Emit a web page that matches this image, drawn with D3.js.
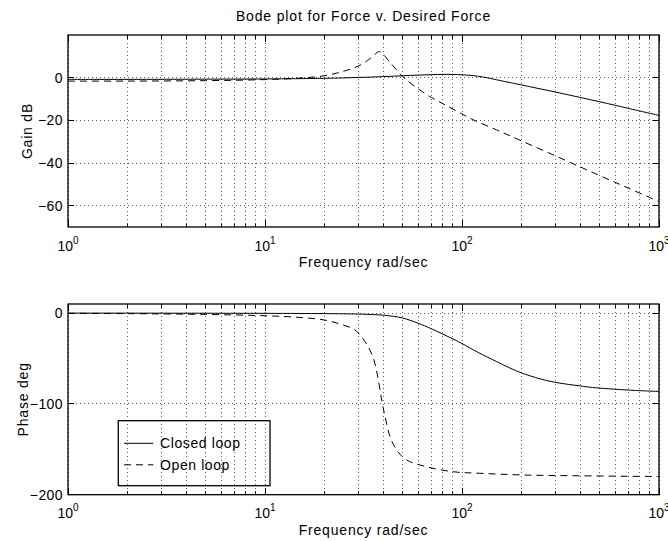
<!DOCTYPE html>
<html><head><meta charset="utf-8">
<script src="https://cdn.jsdelivr.net/npm/d3@7"></script>
<style>
body{margin:0;background:#fff}
text{font-family:"Liberation Sans",Arial,Helvetica,sans-serif;fill:#000}
</style>
</head><body>
<svg id="chart" width="668" height="541"></svg>
<script>
// ---------- data ----------
const titleText = "Bode plot for Force v. Desired Force";
const xLabelText = "Frequency rad/sec";
const gainLabelText = "Gain dB";
const phaseLabelText = "Phase deg";
const seriesNames = ["Closed loop", "Open loop"];
const xTickExponents = [0, 1, 2, 3];
const gainTicks = [-60, -40, -20, 0];
const gainTickLabels = ["\u221260", "\u221240", "\u221220", "0"];
const phaseTicks = [-200, -100, 0];
const phaseTickLabels = ["\u2212200", "\u2212100", "0"];

const gainFreqClosed = [1, 2, 5, 10, 20, 30, 40, 50, 60, 70, 80, 90, 100, 110, 120, 135, 150, 200, 300, 500, 700, 1000];
const gainClosed     = [-0.8, -0.8, -0.7, -0.6, -0.3, 0.1, 0.5, 0.9, 1.2, 1.4, 1.55, 1.55, 1.35, 1.1, 0.7, -0.1, -1.0, -3.4, -6.8, -11.3, -14.4, -17.7];

const gainFreqOpen = [1, 2, 5, 10, 15, 20, 25, 30, 34, 36, 38, 40, 42, 45, 50, 58, 70, 80, 95, 115, 150, 200, 340, 500, 700, 1000];
const gainOpen     = [-1.6, -1.6, -1.4, -0.9, -0.2, 0.9, 3.0, 5.6, 8.8, 10.8, 12.2, 10.8, 8.4, 5.2, 0.5, -4.3, -9.3, -12.2, -15.9, -19.9, -24.5, -29.6, -39.0, -45.9, -51.8, -58.1];

const phaseFreqClosed = [1, 10, 20, 30, 35, 40, 45, 50, 55, 60, 70, 80, 90, 100, 120, 150, 175, 200, 250, 300, 400, 460, 700, 1000];
const phaseClosed     = [0, -0.3, -0.6, -1.1, -1.6, -2.3, -3.6, -5.5, -8.2, -11.2, -17.3, -23.2, -28.5, -33.5, -43, -53.5, -60.5, -65.8, -72.5, -76.4, -80.3, -81.9, -84.8, -86.3];

const phaseFreqOpen = [1, 2, 5, 10, 15, 20, 24, 28.6, 32.2, 35.5, 37.6, 39.1, 40.7, 43.1, 46.6, 52.4, 66, 90, 123, 205, 400, 1000];
const phaseOpen     = [-0.3, -0.6, -1.5, -2.9, -4.8, -7.6, -12, -18.6, -31.5, -49.7, -73.7, -95.8, -114, -136, -150.8, -161.8, -169.2, -174.7, -176.4, -178.3, -179.2, -180];

// ---------- layout ----------
const svg = d3.select("#chart");
const L = 68, R = 659;
const x = d3.scaleLog().domain([1, 1000]).range([L, R]);
const minorTicks = [];
[0, 1, 2].forEach(d => { for (let k = 2; k <= 9; k++) minorTicks.push(k * Math.pow(10, d)); });
const majorTicks = xTickExponents.map(e => Math.pow(10, e));

function panel(cfg) {
  const y = d3.scaleLinear().domain(cfg.domain).range([cfg.bottom, cfg.top]);
  const g = svg.append("g");
  const clipId = "clip" + cfg.id;
  svg.append("clipPath").attr("id", clipId).append("rect")
    .attr("x", L).attr("y", cfg.top).attr("width", R - L).attr("height", cfg.bottom - cfg.top);

  // grid
  const grid = g.append("g").attr("stroke", "#333").attr("stroke-width", 0.8)
    .attr("stroke-dasharray", "1,3").attr("shape-rendering", "crispEdges");
  majorTicks.concat(minorTicks).forEach(v => {
    grid.append("line").attr("x1", x(v)).attr("x2", x(v)).attr("y1", cfg.top).attr("y2", cfg.bottom);
  });
  cfg.ticks.forEach(v => {
    grid.append("line").attr("x1", L).attr("x2", R).attr("y1", y(v)).attr("y2", y(v));
  });

  // ticks
  const tk = g.append("g").attr("stroke", "#000").attr("stroke-width", 1).attr("shape-rendering", "crispEdges");
  majorTicks.forEach(v => {
    tk.append("line").attr("x1", x(v)).attr("x2", x(v)).attr("y1", cfg.bottom).attr("y2", cfg.bottom - 7);
    tk.append("line").attr("x1", x(v)).attr("x2", x(v)).attr("y1", cfg.top).attr("y2", cfg.top + 7);
  });
  minorTicks.forEach(v => {
    tk.append("line").attr("x1", x(v)).attr("x2", x(v)).attr("y1", cfg.bottom).attr("y2", cfg.bottom - 3.5);
    tk.append("line").attr("x1", x(v)).attr("x2", x(v)).attr("y1", cfg.top).attr("y2", cfg.top + 3.5);
  });
  cfg.ticks.forEach(v => {
    tk.append("line").attr("x1", L).attr("x2", L + 6).attr("y1", y(v)).attr("y2", y(v));
    tk.append("line").attr("x1", R).attr("x2", R - 6).attr("y1", y(v)).attr("y2", y(v));
  });

  // curves
  const line = d3.line().x(d => x(d[0])).y(d => y(d[1])).curve(d3.curveCatmullRom.alpha(0.5));
  cfg.series.forEach(s => {
    g.append("path").attr("clip-path", `url(#${clipId})`)
      .datum(s.f.map((f, i) => [f, s.v[i]]))
      .attr("d", line).attr("fill", "none").attr("stroke", "#000").attr("stroke-width", 1)
      .attr("stroke-dasharray", s.dash || null);
  });

  // frame
  g.append("rect").attr("x", L).attr("y", cfg.top).attr("width", R - L).attr("height", cfg.bottom - cfg.top)
    .attr("fill", "none").attr("stroke", "#000").attr("stroke-width", 1.3);

  // y tick labels
  cfg.ticks.forEach((v, i) => {
    g.append("text").attr("x", 63).attr("y", y(v)).attr("dy", "0.36em")
      .attr("text-anchor", "end").attr("font-size", 14).attr("letter-spacing", 0.4)
      .text(cfg.tickLabels[i]);
  });

  // x tick labels 10^n
  xTickExponents.forEach(e => {
    const t = g.append("text").attr("x", x(Math.pow(10, e))).attr("y", cfg.bottom + 23.5)
      .attr("text-anchor", "middle").attr("font-size", 14);
    t.append("tspan").text("10");
    t.append("tspan").attr("dy", -7).attr("font-size", 10).text(String(e));
  });

  // x label
  g.append("text").attr("x", (L + R) / 2).attr("y", cfg.bottom + 40)
    .attr("text-anchor", "middle").attr("font-size", 14).attr("letter-spacing", 0.8)
    .text(xLabelText);

  // y label
  g.append("text").attr("transform", `translate(${cfg.ylabelX},${(cfg.top + cfg.bottom) / 2}) rotate(-90)`)
    .attr("text-anchor", "middle").attr("font-size", 14).attr("letter-spacing", 0.8)
    .text(cfg.ylabel);
  return y;
}

// title
svg.append("text").attr("x", (L + R) / 2).attr("y", 20.5).attr("text-anchor", "middle")
  .attr("font-size", 14).attr("letter-spacing", 0.85).text(titleText);

panel({
  id: 1, top: 35, bottom: 227, domain: [-70, 20], ticks: gainTicks, tickLabels: gainTickLabels,
  ylabel: gainLabelText, ylabelX: 32,
  series: [
    { f: gainFreqClosed, v: gainClosed },
    { f: gainFreqOpen, v: gainOpen, dash: "7,5" }
  ]
});

panel({
  id: 2, top: 304, bottom: 494.7, domain: [-200, 10], ticks: phaseTicks, tickLabels: phaseTickLabels,
  ylabel: phaseLabelText, ylabelX: 28,
  series: [
    { f: phaseFreqClosed, v: phaseClosed },
    { f: phaseFreqOpen, v: phaseOpen, dash: "7,5" }
  ]
});

// legend
const lg = svg.append("g");
lg.append("rect").attr("x", 118.3).attr("y", 420.7).attr("width", 151.7).attr("height", 65)
  .attr("fill", "none").attr("stroke", "#000").attr("stroke-width", 1.3);
const legendDash = [null, "7,5"];
seriesNames.forEach((n, i) => {
  const yy = 443.3 + i * 21.5;
  lg.append("line").attr("x1", 124).attr("x2", 153.3).attr("y1", yy).attr("y2", yy)
    .attr("stroke", "#000").attr("stroke-width", 1).attr("stroke-dasharray", legendDash[i]);
  lg.append("text").attr("x", 160).attr("y", yy + 5).attr("font-size", 14).attr("letter-spacing", 0.6).text(n);
});
</script>
</body></html>
